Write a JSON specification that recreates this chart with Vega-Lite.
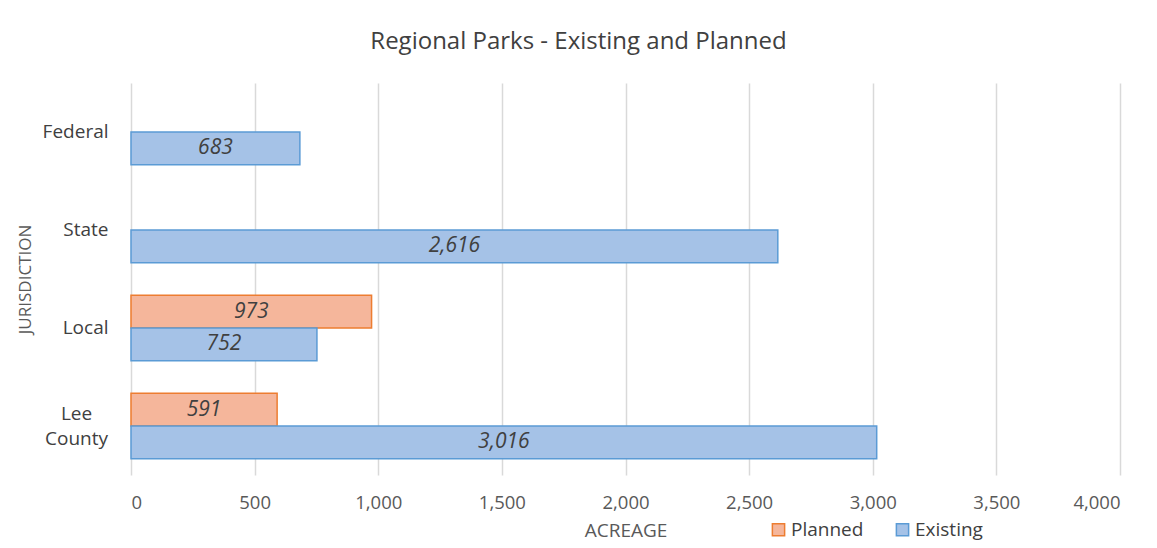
{
  "$schema": "https://vega.github.io/schema/vega-lite/v6.json",
  "autosize": {"type": "none"},
  "width": 989,
  "height": 392,
  "padding": {"left": 131, "top": 83, "right": 37, "bottom": 73},
  "background": "white",
  "config": {
    "view": {"stroke": null},
    "font": "Open Sans"
  },
  "title": {
    "text": "Regional Parks - Existing and Planned",
    "fontSize": 24,
    "fontWeight": "normal",
    "color": "#404040",
    "font": "Open Sans",
    "anchor": "middle",
    "dx": -47,
    "offset": 29
  },
  "data": {
    "values": [
      {"jurisdiction": "Federal", "status": "Existing", "acres": 683},
      {"jurisdiction": "State", "status": "Existing", "acres": 2616},
      {"jurisdiction": "Local", "status": "Planned", "acres": 973},
      {"jurisdiction": "Local", "status": "Existing", "acres": 752},
      {"jurisdiction": "Lee County", "status": "Planned", "acres": 591},
      {"jurisdiction": "Lee County", "status": "Existing", "acres": 3016}
    ]
  },
  "encoding": {
    "y": {
      "field": "jurisdiction",
      "type": "nominal",
      "sort": ["Federal", "State", "Local", "Lee County"],
      "scale": {"paddingInner": 0.33, "paddingOuter": 0.165},
      "axis": {
        "title": "JURISDICTION",
        "titleFont": "Open Sans",
        "titleFontSize": 17,
        "titleFontWeight": "normal",
        "titleColor": "#595959",
        "titlePadding": 8,
        "labelFont": "Open Sans",
        "labelFontSize": 19,
        "labelColor": "#404040",
        "labelPadding": {"expr": "datum.value == 'Lee County' ? 55 : 23"},
        "labelAlign": {"expr": "datum.value == 'Lee County' ? 'center' : 'right'"},
        "labelOffset": {"expr": "datum.value == 'Lee County' ? -12 : 0"},
        "labelLineHeight": 25,
        "labelExpr": "datum.value == 'Lee County' ? ['Lee', 'County'] : datum.value",
        "ticks": false,
        "domain": false,
        "grid": false
      }
    },
    "yOffset": {
      "field": "status",
      "type": "nominal",
      "sort": ["Planned", "Existing"],
      "scale": {"domain": ["Planned", "Existing"], "paddingInner": 0, "paddingOuter": 0}
    }
  },
  "layer": [
    {
      "mark": {"type": "bar", "strokeWidth": 1.5},
      "encoding": {
        "x": {
          "field": "acres",
          "type": "quantitative",
          "scale": {"domain": [0, 4000], "nice": false},
          "axis": {
            "title": "ACREAGE",
            "titleFont": "Open Sans",
            "titleFontSize": 19,
            "titleFontWeight": "normal",
            "titleColor": "#595959",
            "titlePadding": 10,
            "values": [0, 500, 1000, 1500, 2000, 2500, 3000, 3500, 4000],
            "format": ",d",
            "labelFont": "Open Sans",
            "labelFontSize": 18.5,
            "labelColor": "#595959",
            "labelPadding": 18,
            "ticks": false,
            "domain": false,
            "grid": true,
            "gridColor": "#d9d9d9",
            "gridWidth": 1.5
          }
        },
        "fill": {
          "field": "status",
          "type": "nominal",
          "scale": {"domain": ["Planned", "Existing"], "range": ["#f5b69b", "#a5c2e7"]},
          "legend": {
            "title": null,
            "orient": "none",
            "legendX": 638,
            "legendY": 437,
            "direction": "horizontal",
            "symbolType": "square",
            "symbolSize": 150,
            "symbolStrokeWidth": 1.5,
            "labelFont": "Open Sans",
            "labelFontSize": 19,
            "labelColor": "#404040",
            "labelOffset": 3,
            "columnPadding": 29
          }
        },
        "stroke": {
          "field": "status",
          "type": "nominal",
          "scale": {"domain": ["Planned", "Existing"], "range": ["#ed7d31", "#5b9bd5"]},
          "legend": {
            "title": null,
            "orient": "none",
            "legendX": 638,
            "legendY": 437,
            "direction": "horizontal",
            "symbolType": "square",
            "symbolSize": 150,
            "symbolStrokeWidth": 1.5,
            "labelFont": "Open Sans",
            "labelFontSize": 19,
            "labelColor": "#404040",
            "labelOffset": 3,
            "columnPadding": 29
          }
        }
      }
    },
    {
      "mark": {"type": "text", "fontStyle": "italic", "fontSize": 21, "color": "#404040", "font": "Open Sans", "align": "center", "baseline": "middle"},
      "encoding": {
        "x": {
          "field": "acres",
          "type": "quantitative",
          "scale": {"domain": [0, 8000], "nice": false},
          "axis": null
        },
        "text": {"field": "acres", "type": "quantitative", "format": ",d"}
      }
    }
  ],
  "resolve": {"scale": {"x": "independent"}}
}
